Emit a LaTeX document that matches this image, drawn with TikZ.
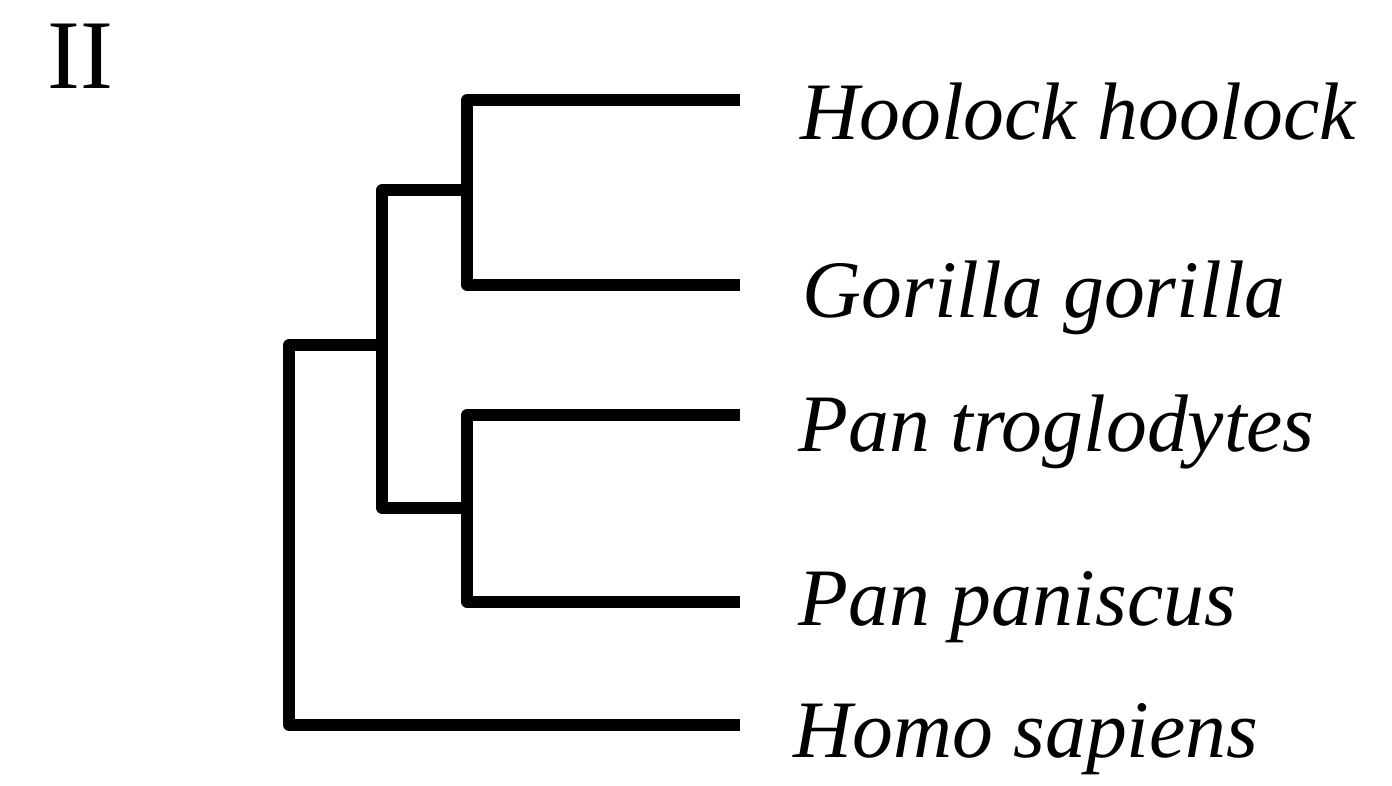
\documentclass[tikz,border=0pt]{standalone}
\usepackage{fontspec}
\setmainfont{Liberation Serif}
\usetikzlibrary{positioning}
\tikzset{
	branch/.style={line width=3.2pt, line join=round},
	taxon/.style={anchor=base west, inner sep=0pt, font=\fontsize{23.2}{27}\selectfont\itshape},
}
\begin{document}
\begin{tikzpicture}[x=0.01cm,y=-0.01cm]
\useasboundingbox (0,0) rectangle (1392,786);
\node[anchor=base west, inner sep=0pt, font=\fontsize{28}{32}\selectfont] (panel) at (47,89) {II};
\coordinate (t1) at (740,100);
\coordinate (t2) at (740,285);
\coordinate (t3) at (740,415);
\coordinate (t4) at (740,602);
\coordinate (t5) at (740,725);
\coordinate (c1) at (467,190);
\coordinate (c2) at (467,508);
\coordinate (c3) at (382,345);
\coordinate (r) at (289,500);
\node[taxon] (hoolock) at (800,140) {Hoolock hoolock};
\node[taxon] (gorilla) at (802,318) {Gorilla gorilla};
\node[taxon] (trog) at (798,452) {Pan troglodytes};
\node[taxon] (panis) at (798,625) {Pan paniscus};
\node[taxon] (homo) at (793,757) {Homo sapiens};
\draw[branch] (t1) -| (c1) |- (t2);
\draw[branch] (t3) -| (c2) |- (t4);
\draw[branch] (c1) -| (c3) |- (c2);
\draw[branch] (c3) -| (r) |- (t5);
\end{tikzpicture}
\end{document}
